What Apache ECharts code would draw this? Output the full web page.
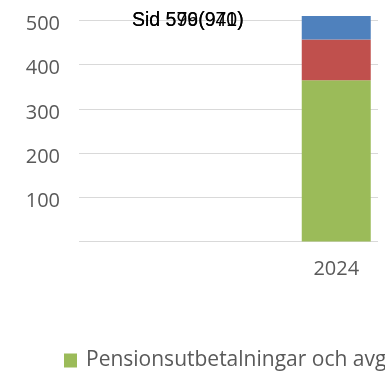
<!DOCTYPE html>
<html>
<head>
<meta charset="utf-8">
<script src="https://cdn.jsdelivr.net/npm/echarts@6/dist/echarts.min.js"></script>
<style>
  html, body { margin: 0; padding: 0; background: #fff; }
  #chart { width: 385px; height: 372px; }
</style>
</head>
<body>
<div id="chart"></div>
<script>
// Categories along the x axis (only the last slot carries a bar)
const categories = ['', '', '', '2024'];

// Stacked components (millions)
const pensionPayments = [null, null, null, 365];
const secondPart      = [null, null, null, 92];
const thirdPart       = [null, null, null, 53];

// Y-axis scale
const yMin = 0, yMax = 500, yStep = 100;

// Header lines printed on top of each other
const headerTexts = ['Sid 579(941)', 'Sid 596(970)'];

const seriesNames = ['Pensionsutbetalningar och avgifter', 'Administration', 'Övrigt'];
const colors = ['#9BBB59', '#C0504D', '#4F81BD'];

const labelFont = '"Open Sans", sans-serif';
const gridColor = '#d9d9d9';

const chart = echarts.init(document.getElementById('chart'), null, { renderer: 'canvas' });

chart.setOption({
  animation: false,
  backgroundColor: '#ffffff',
  title: headerTexts.map(t => ({
    text: t,
    left: 132,
    top: 11,
    padding: 0,
    textStyle: { fontFamily: '"Liberation Sans", Arial, sans-serif', fontSize: 19.5, fontWeight: 'normal', color: '#000' }
  })),
  legend: {
    data: [seriesNames[0]],
    left: 64,
    top: 350,
    padding: 0,
    icon: 'rect',
    itemWidth: 13,
    itemHeight: 14,
    textStyle: { fontFamily: labelFont, fontSize: 21, color: '#595959', padding: [0, 0, 0, 4] }
  },
  grid: [
    { left: 79, right: 7, top: 20.5, bottom: 130.5 },
    { left: 79, right: 12, top: 20.5, bottom: 130.5 }
  ],
  xAxis: [
    { gridIndex: 0, type: 'category', data: categories, show: false },
    {
      gridIndex: 1, type: 'category', data: categories,
      axisLine: { show: false }, axisTick: { show: false },
      axisLabel: { fontFamily: labelFont, fontSize: 20, color: '#595959', margin: 18 }
    }
  ],
  yAxis: [
    {
      gridIndex: 0, type: 'value', min: yMin, max: yMax, interval: yStep,
      axisLine: { show: false }, axisTick: { show: false },
      splitLine: { lineStyle: { color: gridColor, width: 1 } },
      axisLabel: {
        fontFamily: labelFont, fontSize: 20, color: '#595959', margin: 19,
        formatter: v => (v === 0 ? '' : '{v|' + v + '}'),
        rich: { v: { fontFamily: labelFont, fontSize: 20, color: '#595959', padding: [8, 0, 0, 0] } }
      }
    },
    {
      gridIndex: 1, type: 'value', min: yMin, max: yMax, interval: yStep,
      show: false
    }
  ],
  series: [
    { name: seriesNames[0], type: 'bar', stack: 'total', xAxisIndex: 1, yAxisIndex: 1, data: pensionPayments, barWidth: 69, clip: false, itemStyle: { color: colors[0] } },
    { name: seriesNames[1], type: 'bar', stack: 'total', xAxisIndex: 1, yAxisIndex: 1, data: secondPart, barWidth: 69, clip: false, itemStyle: { color: colors[1] } },
    { name: seriesNames[2], type: 'bar', stack: 'total', xAxisIndex: 1, yAxisIndex: 1, data: thirdPart, barWidth: 69, clip: false, itemStyle: { color: colors[2] } }
  ]
});
</script>
</body>
</html>
